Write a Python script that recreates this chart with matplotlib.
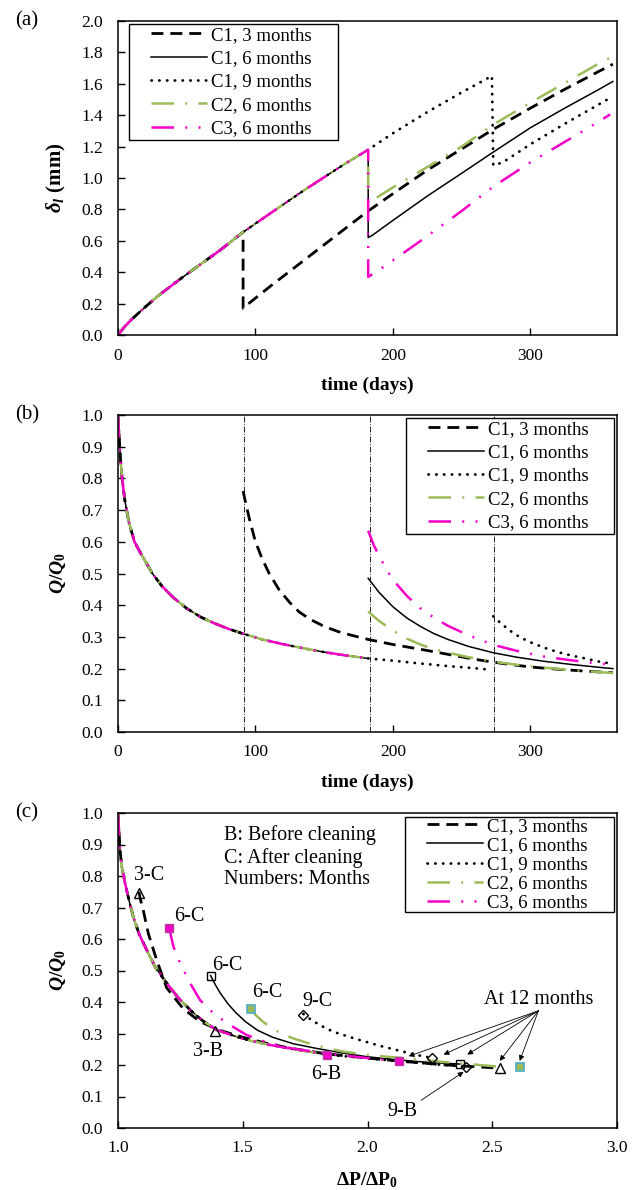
import matplotlib
matplotlib.use("Agg")
import matplotlib.pyplot as plt
from matplotlib.lines import Line2D
from matplotlib.legend_handler import HandlerLine2D

plt.rcParams['font.family'] = ['Liberation Serif', 'DejaVu Serif']
plt.rcParams['mathtext.fontset'] = 'custom'
plt.rcParams['mathtext.rm'] = 'Liberation Serif:bold'
plt.rcParams['mathtext.bf'] = 'Liberation Serif:bold'
plt.rcParams['mathtext.it'] = 'Liberation Serif:bold:italic'

GREEN = '#9BBB59'
MAG = '#F500C8'
TEAL = '#4BACC6'

labels = ['C1, 3 months', 'C1, 6 months', 'C1, 9 months', 'C2, 6 months', 'C3, 6 months']

# ---------------- (a) deposit thickness vs time ----------------
base_t = [0, 5, 10, 20, 30, 45, 60, 75, 91, 105, 120, 135, 150, 165, 182]
base_d = [0, 0.055, 0.10, 0.18, 0.255, 0.355, 0.45, 0.545, 0.655, 0.74, 0.83, 0.92, 1.005, 1.09, 1.18]

a_c13_t = [91, 91, 95, 110, 130, 150, 170, 182, 200, 225, 250, 273, 300, 325, 350, 360]
a_c13_d = [0.655, 0.17, 0.20, 0.305, 0.44, 0.575, 0.71, 0.79, 0.90, 1.05, 1.185, 1.31, 1.445, 1.565, 1.68, 1.725]

a_c16_t = [182, 182, 185, 200, 225, 250, 273, 300, 325, 350, 360]
a_c16_d = [1.18, 0.62, 0.635, 0.73, 0.885, 1.03, 1.165, 1.32, 1.445, 1.565, 1.615]

a_c19_t = [182, 200, 225, 250, 272, 273, 280, 300, 325, 350, 360]
a_c19_d = [1.18, 1.285, 1.42, 1.545, 1.65, 1.08, 1.10, 1.215, 1.345, 1.47, 1.52]

a_c26_t = [182, 182, 190, 200, 225, 250, 273, 300, 325, 350, 360]
a_c26_d = [1.18, 0.84, 0.885, 0.94, 1.07, 1.20, 1.34, 1.48, 1.605, 1.73, 1.775]

a_c36_t = [182, 182, 190, 200, 225, 250, 273, 300, 325, 350, 358]
a_c36_d = [1.18, 0.37, 0.415, 0.475, 0.63, 0.79, 0.945, 1.10, 1.23, 1.36, 1.405]

# ---------------- (b) flow ratio vs time ----------------
bq_t = [0, 1, 2, 3, 5, 8, 12, 17, 25, 32, 40, 50, 60, 70, 80, 91, 105, 120, 135, 150, 165, 182]
bq_q = [1.0, 0.92, 0.85, 0.80, 0.73, 0.66, 0.60, 0.56, 0.50, 0.46, 0.425, 0.39, 0.363, 0.343,
        0.326, 0.31, 0.292, 0.277, 0.264, 0.252, 0.242, 0.232]

b_c13_t = [91, 93, 96, 100, 105, 110, 117, 125, 132, 140, 150, 160, 170, 182, 200, 220, 240, 260,
           280, 300, 320, 340, 360]
b_c13_q = [0.76, 0.72, 0.665, 0.60, 0.545, 0.50, 0.45, 0.408, 0.378, 0.355, 0.333, 0.317, 0.305,
           0.292, 0.276, 0.261, 0.245, 0.229, 0.216, 0.205, 0.198, 0.192, 0.187]

b_c16_t = [182, 190, 200, 210, 220, 230, 240, 255, 273, 290, 310, 330, 350, 360]
b_c16_q = [0.485, 0.44, 0.395, 0.36, 0.333, 0.31, 0.292, 0.27, 0.25, 0.236, 0.223, 0.213, 0.204, 0.20]

b_c19_t1 = [182, 200, 220, 240, 260, 272]
b_c19_q1 = [0.232, 0.225, 0.216, 0.208, 0.201, 0.196]
b_c19_t2 = [273, 278, 285, 292, 300, 310, 320, 330, 340, 350, 360]
b_c19_q2 = [0.365, 0.345, 0.32, 0.30, 0.283, 0.266, 0.252, 0.241, 0.232, 0.222, 0.215]

b_c26_t = [182, 190, 200, 210, 220, 230, 240, 255, 273, 290, 310, 330, 350, 360]
b_c26_q = [0.38, 0.35, 0.32, 0.295, 0.276, 0.261, 0.25, 0.236, 0.222, 0.212, 0.203, 0.195, 0.189, 0.186]

b_c36_t = [182, 186, 190, 195, 200, 210, 220, 230, 240, 255, 273, 290, 310, 330, 350, 360]
b_c36_q = [0.635, 0.59, 0.555, 0.515, 0.48, 0.43, 0.39, 0.36, 0.335, 0.305, 0.275, 0.256, 0.238,
           0.226, 0.216, 0.212]

clean_days = [91.5, 183, 273.5]

# ---------------- (c) flow ratio vs pressure-drop ratio ----------------
cb_x = [1.0, 1.004, 1.008, 1.015, 1.028, 1.045, 1.061, 1.085, 1.115, 1.15, 1.195, 1.24, 1.289,
        1.34, 1.396, 1.5, 1.6, 1.72, 1.84, 2.0, 2.13, 2.26, 2.39]
cb_q = [1.0, 0.94, 0.883, 0.83, 0.778, 0.72, 0.671, 0.615, 0.565, 0.51, 0.46, 0.415, 0.375,
        0.34, 0.311, 0.283, 0.265, 0.248, 0.233, 0.221, 0.212, 0.203, 0.195]

c_c13_x = [1.084, 1.09, 1.101, 1.121, 1.155, 1.195, 1.262, 1.329, 1.40, 1.5, 1.6, 1.7, 1.84,
           2.0, 2.15, 2.3, 2.4, 2.53]
c_c13_q = [0.75, 0.725, 0.692, 0.619, 0.533, 0.445, 0.378, 0.338, 0.312, 0.288, 0.268, 0.252,
           0.235, 0.222, 0.211, 0.201, 0.196, 0.19]

c_c16_x = [1.371, 1.39, 1.41, 1.44, 1.47, 1.51, 1.56, 1.62, 1.7, 1.8, 1.9, 2.0, 2.1, 2.2, 2.3, 2.37]
c_c16_q = [0.484, 0.455, 0.428, 0.395, 0.368, 0.338, 0.31, 0.288, 0.268, 0.252, 0.238, 0.226,
           0.218, 0.211, 0.206, 0.203]

c_c19_x = [1.743, 1.77, 1.796, 1.83, 1.862, 1.92, 1.97, 2.063, 2.13, 2.19, 2.26]
c_c19_q = [0.362, 0.346, 0.333, 0.318, 0.306, 0.291, 0.279, 0.258, 0.245, 0.233, 0.222]

c_c26_x = [1.534, 1.55, 1.58, 1.62, 1.66, 1.7, 1.76, 1.83, 1.9, 2.0, 2.14, 2.3, 2.45, 2.52]
c_c26_q = [0.378, 0.36, 0.338, 0.315, 0.298, 0.285, 0.27, 0.255, 0.243, 0.232, 0.222, 0.21, 0.2, 0.195]

c_c36_x = [1.205, 1.222, 1.249, 1.289, 1.329, 1.382, 1.436, 1.516, 1.596, 1.7, 1.84, 2.0, 2.13]
c_c36_q = [0.635, 0.576, 0.523, 0.46, 0.406, 0.365, 0.333, 0.295, 0.272, 0.252, 0.236, 0.222, 0.212]

tri_x, tri_q = [1.084, 1.39, 2.53], [0.746, 0.307, 0.19]
sq_x, sq_q = [1.371, 2.37], [0.484, 0.203]
dia_x, dia_q = [1.742, 2.26, 2.394], [0.36, 0.222, 0.194]
msq_x, msq_q = [1.205, 1.839, 2.127], [0.635, 0.233, 0.212]
gsq_x, gsq_q = [1.534, 2.61], [0.378, 0.194]

point_labels = [('3-C', 1.125, 0.80), ('3-B', 1.36, 0.243), ('6-C', 1.286, 0.67),
                ('6-C', 1.44, 0.516), ('6-C', 1.60, 0.43), ('9-C', 1.80, 0.40),
                ('6-B', 1.836, 0.17)]
note_lines = [('B: Before cleaning', 0.93), ('C: After cleaning', 0.856), ('Numbers: Months', 0.79)]
twelve_heads = [(2.165, 0.228), (2.305, 0.233), (2.40, 0.233), (2.53, 0.213), (2.61, 0.213)]

styles = [
    dict(color='k', lw=2.0, ls=(0, (4.3, 2.5))),
    dict(color='k', lw=1.1, ls='-'),
    dict(color='k', lw=2.0, ls=(0, (0.1, 2.7)), dash_capstyle='round'),
    dict(color=GREEN, lw=1.8, ls=(0, (9, 4.5, 0.8, 4.5))),
    dict(color=MAG, lw=1.8, ls=(0, (9, 4.5, 0.8, 4.5, 0.8, 4.5))),
]

W, H = 632, 1190
AX_L, AX_R = 118, 617
AX_W = AX_R - AX_L
fig = plt.figure(figsize=(W / 100, H / 100), dpi=100)


def rect(top, bottom):
    return [AX_L / W, 1 - bottom / H, AX_W / W, (bottom - top) / H]


ax_a = fig.add_axes(rect(21, 335))
ax_b = fig.add_axes(rect(415, 732))
ax_c = fig.add_axes(rect(813, 1128))

TICK_FS = 12.5
LEG_FS = 13.5
NOTE_FS = 14.5
for ax in (ax_a, ax_b, ax_c):
    ax.tick_params(direction='in', length=5, width=1, labelsize=TICK_FS)
    ax.tick_params(axis='x', pad=9)
    ax.tick_params(axis='y', pad=11)
    for s in ax.spines.values():
        s.set_linewidth(1.1)


def add_legend(ax, box_left, box_right, box_top, ax_top, ax_h, spacing, pad):
    """Legend box given in pixel extents relative to the figure."""
    fs_px = LEG_FS * 100 / 72
    x0 = (box_left - AX_L) / AX_W
    wid = (box_right - box_left) / AX_W
    y0 = 1 - (box_top - ax_top) / ax_h
    xpad = (22 - pad * fs_px) / fs_px
    hl = (78 - pad * fs_px) / fs_px
    leg = ax.legend(loc='upper left', bbox_to_anchor=(x0, y0, wid, 0), mode='expand',
                    fontsize=LEG_FS, frameon=True, fancybox=False, framealpha=1, edgecolor='k',
                    handlelength=hl, handletextpad=0.2, borderpad=pad, borderaxespad=0,
                    labelspacing=spacing, handler_map={Line2D: HandlerLine2D(xpad=xpad)})
    leg.get_frame().set_linewidth(1.0)
    return leg


# (a)
segments_a = [
    (base_t[:9] + a_c13_t, base_d[:9] + a_c13_d),
    (base_t + a_c16_t, base_d + a_c16_d),
    (base_t + a_c19_t, base_d + a_c19_d),
    (base_t + a_c26_t, base_d + a_c26_d),
    (base_t + a_c36_t, base_d + a_c36_d),
]
for (t, d), st, lb in zip(segments_a, styles, labels):
    ax_a.plot(t, d, label=lb, **st)
ax_a.set_xlim(0, 363)
ax_a.set_ylim(0, 2.0)
ax_a.set_xticks([0, 100, 200, 300])
ax_a.set_yticks([i * 0.2 for i in range(11)])
ax_a.set_yticklabels([f'{i * 0.2:.1f}' for i in range(11)])
ax_a.set_xlabel('time (days)', fontsize=14, fontweight='bold')
ax_a.set_ylabel(r'$\delta_l\ \mathrm{(mm)}$', fontsize=15)
add_legend(ax_a, 129, 338, 24, 21, 314, spacing=0.33, pad=0.15)

# (b)
for t0 in clean_days:
    ax_b.axvline(t0, color='k', lw=0.6, ls=(0, (7, 2, 1, 2)), zorder=1)
segments_b = [
    [(bq_t[:16], bq_q[:16]), (b_c13_t, b_c13_q)],
    [(bq_t, bq_q), (b_c16_t, b_c16_q)],
    [(bq_t, bq_q), (b_c19_t1, b_c19_q1), (b_c19_t2, b_c19_q2)],
    [(bq_t, bq_q), (b_c26_t, b_c26_q)],
    [(bq_t, bq_q), (b_c36_t, b_c36_q)],
]
for segs, st, lb in zip(segments_b, styles, labels):
    for k, (t, q) in enumerate(segs):
        ax_b.plot(t, q, label=lb if k == 0 else None, zorder=2, **st)
ax_b.set_xlim(0, 363)
ax_b.set_ylim(0, 1.0)
ax_b.set_xticks([0, 100, 200, 300])
ax_b.set_yticks([i * 0.1 for i in range(11)])
ax_b.set_yticklabels([f'{i * 0.1:.1f}' for i in range(11)])
ax_b.set_xlabel('time (days)', fontsize=14, fontweight='bold')
ax_b.set_ylabel(r'$Q/Q_{0}$', fontsize=14)
add_legend(ax_b, 406, 614, 418, 415, 317, spacing=0.33, pad=0.15)

# (c)
segments_c = [
    (cb_x[:15], cb_q[:15], c_c13_x, c_c13_q),
    (cb_x[:19], cb_q[:19], c_c16_x, c_c16_q),
    (cb_x, cb_q, c_c19_x, c_c19_q),
    (cb_x[:19], cb_q[:19], c_c26_x, c_c26_q),
    (cb_x[:19], cb_q[:19], c_c36_x, c_c36_q),
]
for (x1, q1, x2, q2), st, lb in zip(segments_c, styles, labels):
    ax_c.plot(x1, q1, label=lb, zorder=2, **st)
    ax_c.plot(x2, q2, zorder=2, **st)

mk = dict(ls='none', zorder=3)
ax_c.plot(tri_x, tri_q, marker='^', ms=7, mfc='none', mec='k', mew=1.0, **mk)
ax_c.plot(sq_x, sq_q, marker='s', ms=5.5, mfc='none', mec='k', mew=1.0, **mk)
ax_c.plot(dia_x, dia_q, marker='D', ms=5.5, mfc='none', mec='k', mew=1.0, **mk)
ax_c.plot(msq_x, msq_q, marker='s', ms=6, mfc=MAG, mec='#B0409C', mew=1.0, **mk)
ax_c.plot(gsq_x, gsq_q, marker='s', ms=6, mfc=GREEN, mec=TEAL, mew=1.2, **mk)

for txt, x, y in point_labels:
    ax_c.text(x, y, txt, fontsize=NOTE_FS, ha='center', va='center')
for txt, y in note_lines:
    ax_c.text(1.424, y, txt, fontsize=NOTE_FS, ha='left', va='center')
ax_c.text(2.685, 0.407, 'At 12 months', fontsize=NOTE_FS, ha='center', va='center')
arrow_kw = dict(arrowstyle='-|>', color='k', lw=0.6, mutation_scale=8, shrinkA=0, shrinkB=0)
for hx, hy in twelve_heads:
    ax_c.annotate('', xy=(hx, hy), xytext=(2.685, 0.372), arrowprops=arrow_kw)
ax_c.text(2.14, 0.053, '9-B', fontsize=NOTE_FS, ha='center', va='center')
ax_c.annotate('', xy=(2.385, 0.178), xytext=(2.215, 0.088), arrowprops=arrow_kw)

ax_c.set_xlim(1.0, 3.0)
ax_c.set_ylim(0, 1.0)
ax_c.set_xticks([1.0, 1.5, 2.0, 2.5, 3.0])
ax_c.set_xticklabels(['1.0', '1.5', '2.0', '2.5', '3.0'])
ax_c.set_yticks([i * 0.1 for i in range(11)])
ax_c.set_yticklabels([f'{i * 0.1:.1f}' for i in range(11)])
ax_c.set_xlabel(r'$\Delta\mathrm{P}/\Delta\mathrm{P}_{0}$', fontsize=14)
ax_c.set_ylabel(r'$Q/Q_{0}$', fontsize=14)
add_legend(ax_c, 405, 614, 817, 813, 315, spacing=0.11, pad=0.03)

# axis label placement
for ax, h in ((ax_a, 314), (ax_b, 317), (ax_c, 315)):
    ax.xaxis.set_label_coords(0.5, -42 / h)
    ax.yaxis.set_label_coords(-50 / AX_W, 0.5)

for txt, y in (('(a)', 21), ('(b)', 415), ('(c)', 813)):
    fig.text(27 / W, 1 - y / H, txt, fontsize=15, ha='center', va='center')

fig.savefig('out.png', dpi=100)
